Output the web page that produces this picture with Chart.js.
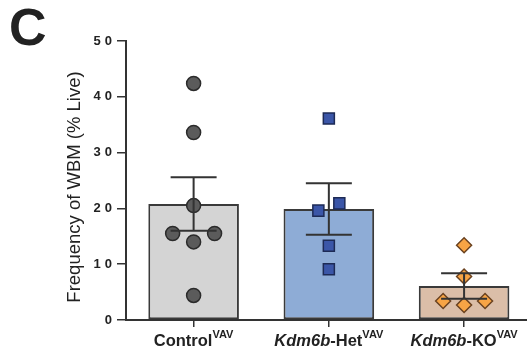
<!DOCTYPE html>
<html>
<head>
<meta charset="utf-8">
<script src="https://cdn.jsdelivr.net/npm/chart.js@4.4.1/dist/chart.umd.min.js"></script>
<style>
  html, body { margin: 0; padding: 0; background: #fff; overflow: hidden; }
  #wrap { position: relative; width: 541px; height: 354px; }
</style>
</head>
<body>
<div id="wrap"><canvas id="wbm-chart" width="541" height="354"></canvas></div>
<script>
// values
let groups = ['Control', 'Kdm6b-Het', 'Kdm6b-KO']
let means = [20.8, 19.9, 6.1]
let sems = [4.8, 4.6, 2.3]
let controlPoints = [42.4, 33.6, 20.5, 15.5, 14.0, 15.5, 4.4]
let hetPoints = [36.1, 19.6, 20.9, 13.3, 9.1]
let koPoints = [13.4, 7.8, 3.4, 2.7, 3.4]
let yTicks = [0, 10, 20, 30, 40, 50]

let font = '"Liberation Sans", Arial, sans-serif'
let ink = '#222'

// spread points that sit at nearly the same height, like a scatter dot plot
function dotPlot(values, groupIndex) {
    let pts = []
    let i = 0
    while (i < values.length) {
        let j = i
        while (j + 1 < values.length && Math.abs(values[j + 1] - values[i]) < 2) j++
        let n = j - i + 1
        for (let k = i; k <= j; k++) {
            pts.push({x: groupIndex + (k - i - (n - 1) / 2) * 0.155, y: values[k]})
        }
        i = j + 1
    }
    return pts
}

// error bars (mean +/- SEM) drawn over the dots
let errorBars = {
    id: 'errorBars',
    afterDatasetsDraw(chart) {
        let ctx = chart.ctx
        let x = chart.scales.x
        let y = chart.scales.y
        ctx.save()
        ctx.strokeStyle = '#333'
        ctx.lineWidth = 2
        means.forEach(function(m, i) {
            let cx = x.getPixelForValue(i)
            let top = y.getPixelForValue(m + sems[i])
            let bot = y.getPixelForValue(m - sems[i])
            ctx.beginPath()
            ctx.moveTo(cx, top)
            ctx.lineTo(cx, bot)
            ctx.moveTo(cx - 23, top)
            ctx.lineTo(cx + 23, top)
            ctx.moveTo(cx - 23, bot)
            ctx.lineTo(cx + 23, bot)
            ctx.stroke()
        })
        ctx.restore()
    }
}

// spaced-out tick digits like the original, reset before the data is drawn
let spacing = {
    id: 'spacing',
    beforeDraw(chart) { chart.ctx.letterSpacing = '4px' },
    beforeDatasetsDraw(chart) { chart.ctx.letterSpacing = '0px' }
}

// panel letter, y title and the mixed-style category labels
let decorations = {
    id: 'decorations',
    afterDraw(chart) {
        let ctx = chart.ctx
        ctx.save()
        ctx.fillStyle = ink
        ctx.font = 'bold 52px ' + font
        ctx.textBaseline = 'alphabetic'
        ctx.fillText('C', 9, 45)

        ctx.save()
        ctx.translate(80, 187)
        ctx.rotate(-Math.PI / 2)
        ctx.font = '18.5px ' + font
        ctx.textAlign = 'center'
        ctx.fillText('Frequency of WBM (% Live)', 0, 0)
        ctx.restore()

        let labels = [
            [{t: 'Control', f: 'bold 16.5px '}, {t: 'VAV', f: 'bold 11px ', sup: true}],
            [{t: 'Kdm6b', f: 'italic bold 16.5px '}, {t: '-Het', f: 'bold 16.5px '}, {t: 'VAV', f: 'bold 11px ', sup: true}],
            [{t: 'Kdm6b', f: 'italic bold 16.5px '}, {t: '-KO', f: 'bold 16.5px '}, {t: 'VAV', f: 'bold 11px ', sup: true}]
        ]
        labels.forEach(function(parts, i) {
            let total = 0
            parts.forEach(function(p) {
                ctx.font = p.f + font
                p.w = ctx.measureText(p.t).width
                total += p.w
            })
            let px = chart.scales.x.getPixelForValue(i) - total / 2
            parts.forEach(function(p) {
                ctx.font = p.f + font
                ctx.fillText(p.t, px, p.sup ? 338 : 346)
                px += p.w
            })
        })
        ctx.restore()
    }
}

let ctx = document.querySelector('#wbm-chart').getContext('2d')

let wbmChart = new Chart(ctx, {
    type: 'bar',
    data: {
        labels: groups,
        datasets: [
            {
                type: 'bar',
                data: means,
                backgroundColor: ['#d4d4d4', '#8eacd6', '#dbbea8'],
                borderColor: '#3a3a3a',
                borderWidth: 2,
                borderSkipped: false,
                grouped: false,
                barPercentage: 0.67,
                categoryPercentage: 1,
                order: 2
            },
            {
                type: 'scatter',
                xAxisID: 'xs',
                data: dotPlot(controlPoints, 0),
                pointStyle: 'circle',
                pointRadius: 7,
                backgroundColor: '#5b5b5b',
                borderColor: '#2b2b2b',
                borderWidth: 1.5,
                order: 1
            },
            {
                type: 'scatter',
                xAxisID: 'xs',
                data: dotPlot(hetPoints, 1),
                pointStyle: 'rect',
                pointRadius: 7.8,
                backgroundColor: '#3b56a8',
                borderColor: '#1d2a55',
                borderWidth: 1.5,
                order: 1
            },
            {
                type: 'scatter',
                xAxisID: 'xs',
                data: dotPlot(koPoints, 2),
                pointStyle: 'rectRot',
                pointRadius: 7.5,
                backgroundColor: '#f7a445',
                borderColor: '#6a4220',
                borderWidth: 1.5,
                order: 1
            }
        ]
    },
    options: {
        responsive: false,
        animation: false,
        layout: {padding: {top: 41, right: 2, bottom: 0, left: 0}},
        plugins: {legend: {display: false}, tooltip: {enabled: false}},
        scales: {
            x: {
                type: 'category',
                offset: true,
                grid: {display: true, offset: false, drawOnChartArea: false, drawTicks: true, tickLength: 7, color: '#333', lineWidth: 1.5},
                border: {display: true, color: '#333', width: 2},
                ticks: {display: false},
                afterFit(scale) { scale.height = 34 }
            },
            xs: {
                type: 'linear',
                display: false,
                offset: false,
                min: -0.5,
                max: 2.5
            },
            y: {
                min: 0,
                max: 50,
                afterBuildTicks(scale) { scale.ticks = yTicks.map(v => ({value: v})) },
                grid: {display: true, drawOnChartArea: false, drawTicks: true, tickLength: 9, color: '#333', lineWidth: 1.5},
                border: {display: true, color: '#333', width: 2},
                ticks: {color: ink, font: {family: font, size: 13, weight: 'bold'}, padding: 1},
                afterFit(scale) { scale.width = 126 }
            }
        }
    },
    plugins: [spacing, errorBars, decorations]
})
</script>
</body>
</html>
